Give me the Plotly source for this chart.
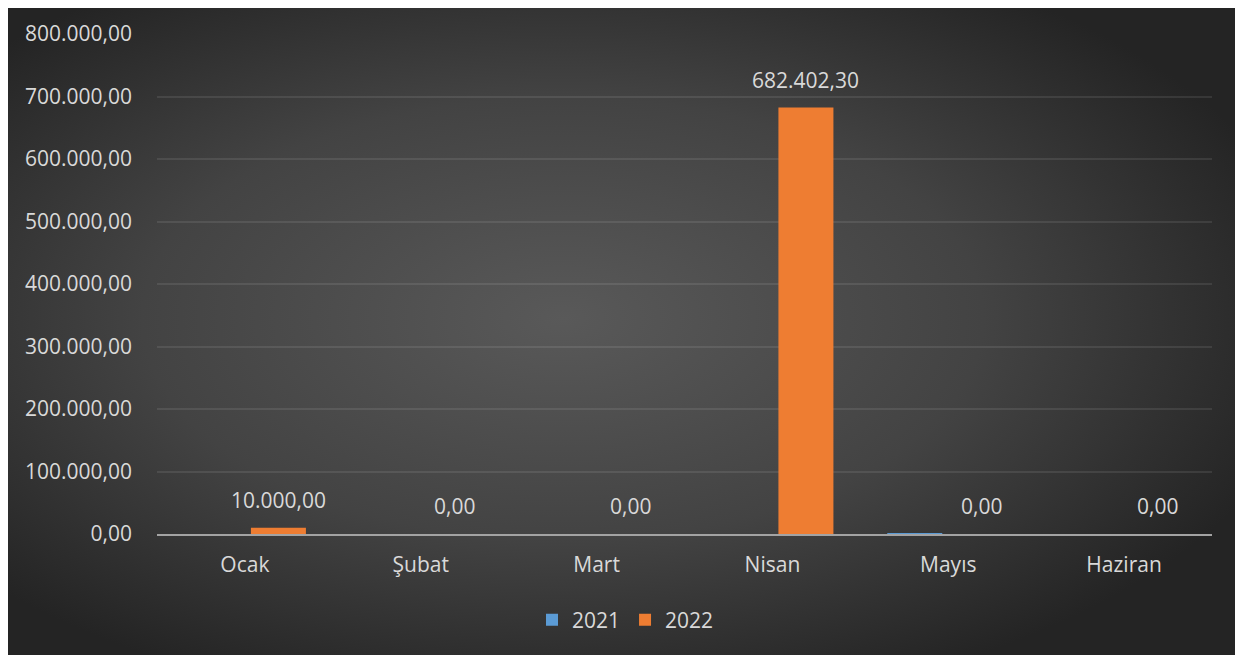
import base64
import plotly.graph_objects as go

# ---- data ----
months = ["Ocak", "Şubat", "Mart", "Nisan", "Mayıs", "Haziran"]
values_2021 = [0, 0, 0, 0, 1500, 0]
values_2022 = [10000, 0, 0, 682402.30, 0, 0]
series_names = ["2021", "2022"]
y_ticks = [0, 100000, 200000, 300000, 400000, 500000, 600000, 700000, 800000]

# ---- style ----
FONT = "Open Sans"
FS = 21
TXT = "#d9d9d9"
BLUE = "#5B9BD5"
ORANGE = "#EE7D32"

# page body has an 8px margin, so the figure starts at (8, 8)
W, H = 1235, 649
ML, MR, MT, MB = 149, 31, 26, 123
plot_w = W - ML - MR
plot_h = H - MT - MB
px_per_cat = plot_w / len(months)

bar_w = 55 / px_per_cat
inner_gap = 6 / px_per_cat
off_2021 = -(inner_gap + bar_w)
off_2022 = inner_gap

fig = go.Figure()
fig.add_trace(go.Bar(
    x=months, y=values_2021, name=series_names[0],
    marker=dict(color=BLUE, line=dict(width=0)),
    width=bar_w, offset=off_2021,
))
fig.add_trace(go.Bar(
    x=months, y=values_2022, name=series_names[1],
    marker=dict(color=ORANGE, line=dict(width=0)),
    width=bar_w, offset=off_2022,
))

# data labels for 2022 series
label_xshift = (off_2022 + bar_w / 2) * px_per_cat
for m, v in zip(months, values_2022):
    txt = f"{v:,.2f}".replace(",", "X").replace(".", ",").replace("X", ".")
    fig.add_annotation(
        x=m, y=v, text=txt, showarrow=False,
        xshift=label_xshift, yshift=12, yanchor="bottom",
        font=dict(family=FONT, size=FS, color=TXT),
    )

# radial gradient background
svg = (
    "<svg xmlns='http://www.w3.org/2000/svg' width='1234' height='651' preserveAspectRatio='none'>"
    "<defs><radialGradient id='g' cx='45%' cy='48%' r='62%'>"
    "<stop offset='0' stop-color='#595959'/>"
    "<stop offset='0.55' stop-color='#434343'/>"
    "<stop offset='1' stop-color='#242424'/>"
    "</radialGradient></defs>"
    "<rect width='100%' height='100%' fill='url(#g)'/></svg>"
)
src = "data:image/svg+xml;base64," + base64.b64encode(svg.encode()).decode()
box_l, box_r, box_t, box_b = 0, 1233, 0, 647
fig.add_layout_image(
    source=src, xref="paper", yref="paper",
    x=(box_l - ML) / plot_w, y=(H - MB - box_t) / plot_h,
    sizex=(box_r - box_l) / plot_w, sizey=(box_b - box_t) / plot_h,
    xanchor="left", yanchor="top", sizing="stretch", layer="below",
)

fig.update_layout(
    width=W, height=H,
    margin=dict(l=ML, r=MR, t=MT, b=MB, autoexpand=False),
    paper_bgcolor="white",
    plot_bgcolor="rgba(0,0,0,0)",
    separators=",.",
    barmode="group",
    font=dict(family=FONT, size=FS, color=TXT),
    showlegend=True,
    legend=dict(
        orientation="h", x=0.5 - 59 / plot_w, xanchor="center",
        y=(H - MB - 612) / plot_h, yanchor="middle",
        font=dict(family=FONT, size=FS, color=TXT),
        bgcolor="rgba(0,0,0,0)", itemwidth=30, tracegroupgap=0,
    ),
    xaxis=dict(
        showgrid=False, showline=True, linecolor="#a3a3a3", linewidth=2,
        ticks="", ticklabelstandoff=11,
        tickfont=dict(family=FONT, size=FS, color=TXT),
        range=[-0.5, len(months) - 0.5],
    ),
    yaxis=dict(
        range=[0, 800000], tickvals=y_ticks, tickformat=",.2f",
        showgrid=True, gridcolor="rgba(255,255,255,0.09)", gridwidth=1.5,
        zeroline=False, showline=False, ticks="",
        ticklabelstandoff=24,
        tickfont=dict(family=FONT, size=FS, color=TXT),
    ),
)

fig.write_html("out.html")
